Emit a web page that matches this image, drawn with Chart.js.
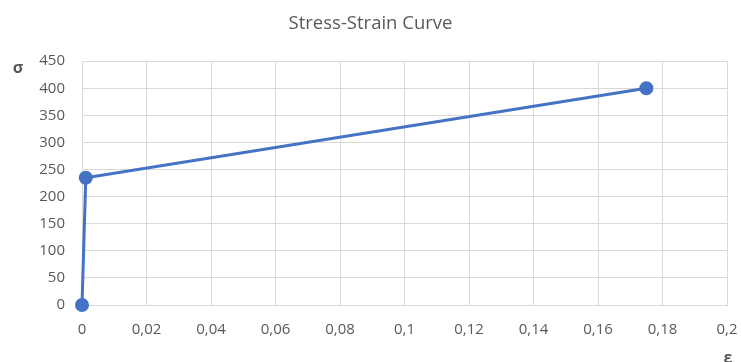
<!DOCTYPE html>
<html>
<head>
<meta charset="utf-8">
<script src="https://cdn.jsdelivr.net/npm/chart.js@4.4.1/dist/chart.umd.min.js"></script>
<style>
  html, body { margin: 0; padding: 0; background: #ffffff; }
  #wrap { width: 741px; height: 362px; position: relative; }
</style>
</head>
<body>
<div id="wrap"><canvas id="c"></canvas></div>
<script>
// Strain (ε) and stress (σ) of the bilinear material model
const strain = [0, 0.001175, 0.175];
const stress = [0, 235, 400];

// Axis tick labels (decimal comma)
const xTickLabels = ['0', '0,02', '0,04', '0,06', '0,08', '0,1', '0,12', '0,14', '0,16', '0,18', '0,2'];
const yTickLabels = ['0', '50', '100', '150', '200', '250', '300', '350', '400', '450'];

const chartTitle = 'Stress-Strain Curve';
const xAxisName = 'ε';
const yAxisName = 'σ';

const FONT = "'Open Sans', 'Liberation Sans', sans-serif";
const TEXT = '#595959';
const GRID = '#d9d9d9';
const LINE = '#4472c4';

// Axis symbols: σ beside the top of the value axis, ε below the right end
const axisSymbols = {
  id: 'axisSymbols',
  afterDraw(chart) {
    const ctx = chart.ctx;
    const area = chart.chartArea;
    ctx.save();
    ctx.fillStyle = TEXT;
    ctx.font = "bold 16px " + FONT;
    ctx.textAlign = 'center';
    ctx.textBaseline = 'middle';
    ctx.fillText(yAxisName, 18, area.top + 7);
    ctx.fillText(xAxisName, area.right + 1, area.bottom + 53);
    ctx.restore();
  }
};

new Chart(document.getElementById('c'), {
  type: 'scatter',
  data: {
    datasets: [{
      data: strain.map((e, i) => ({ x: e, y: stress[i] })),
      showLine: true,
      borderColor: LINE,
      backgroundColor: LINE,
      borderWidth: 3,
      pointRadius: 5.5,
      pointHoverRadius: 5.5,
      tension: 0,
      clip: false
    }]
  },
  options: {
    responsive: true,
    maintainAspectRatio: false,
    animation: false,
    layout: { padding: 0 },
    plugins: {
      legend: { display: false },
      tooltip: { enabled: false },
      title: {
        display: true,
        text: chartTitle,
        color: TEXT,
        font: { family: FONT, size: 18.5, weight: 'normal' },
        padding: { top: 13, bottom: 26 }
      }
    },
    scales: {
      x: {
        type: 'linear',
        min: 0,
        max: 0.2,
        afterFit(scale) {
          scale.height = 57;
          scale.paddingLeft = 0;
          scale.paddingRight = 14;
        },
        afterBuildTicks(scale) {
          scale.ticks = xTickLabels.map((_, i) => ({ value: i * 0.02 }));
        },
        ticks: {
          color: TEXT,
          font: { family: FONT, size: 15 },
          padding: 16,
          maxRotation: 0,
          callback: (v, i) => xTickLabels[i]
        },
        grid: { color: GRID, lineWidth: 1, drawTicks: false },
        border: { color: GRID, width: 1 }
      },
      y: {
        type: 'linear',
        min: 0,
        max: 450,
        afterFit(scale) {
          scale.width = 82;
          scale.paddingTop = 0;
          scale.paddingBottom = 0;
        },
        afterBuildTicks(scale) {
          scale.ticks = yTickLabels.map((_, i) => ({ value: i * 50 }));
        },
        ticks: {
          color: TEXT,
          font: { family: FONT, size: 15 },
          padding: 17,
          callback: (v, i) => yTickLabels[i]
        },
        grid: { color: GRID, lineWidth: 1, drawTicks: false },
        border: { color: GRID, width: 1 }
      }
    }
  },
  plugins: [axisSymbols]
});
</script>
</body>
</html>
